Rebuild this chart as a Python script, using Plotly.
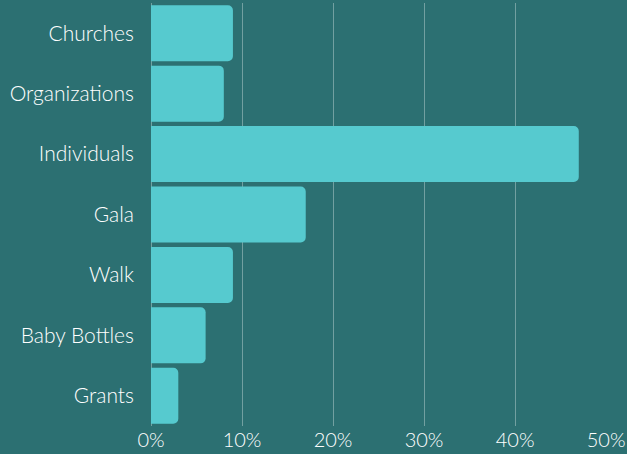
import plotly.graph_objects as go

categories = ["Churches", "Organizations", "Individuals", "Gala", "Walk", "Baby Bottles", "Grants"]
values = [9, 8, 47, 17, 9, 6, 3]
tick_vals = [0, 10, 20, 30, 40, 50]
tick_text = ["0%", "10%", "20%", "30%", "40%", "50%"]

bg = "#2c7072"
bar_color = "#56cacf"

fig = go.Figure(go.Bar(
    x=values, y=categories, orientation="h",
    marker=dict(color=bar_color, line=dict(width=0)),
    hoverinfo="skip",
))

fig.update_layout(
    width=627, height=454,
    paper_bgcolor=bg, plot_bgcolor=bg,
    margin=dict(l=151, r=20, t=3, b=28, pad=0),
    bargap=0.073,
    barcornerradius=5,
    showlegend=False,
    font=dict(family="Lato", color="white", size=20, weight=300),
    xaxis=dict(
        range=[0, 50.1], tickvals=tick_vals, ticktext=tick_text,
        showgrid=True, gridcolor="rgba(200,220,220,0.45)", gridwidth=1.2,
        zeroline=True, zerolinecolor="rgba(200,220,220,0.45)", zerolinewidth=1.2,
        showline=False, ticks="", ticklabelstandoff=0, fixedrange=True,
        automargin=False, tickfont=dict(size=20),
    ),
    yaxis=dict(
        categoryorder="array", categoryarray=categories[::-1],
        showgrid=False, zeroline=False, showline=False, ticks="",
        ticklabelstandoff=16, fixedrange=True, automargin=False,
        tickfont=dict(size=21),
    ),
)

fig.write_html("out.html", config={"displayModeBar": False},
               post_script="document.body.style.margin='0';document.body.style.background='%s';" % bg)
